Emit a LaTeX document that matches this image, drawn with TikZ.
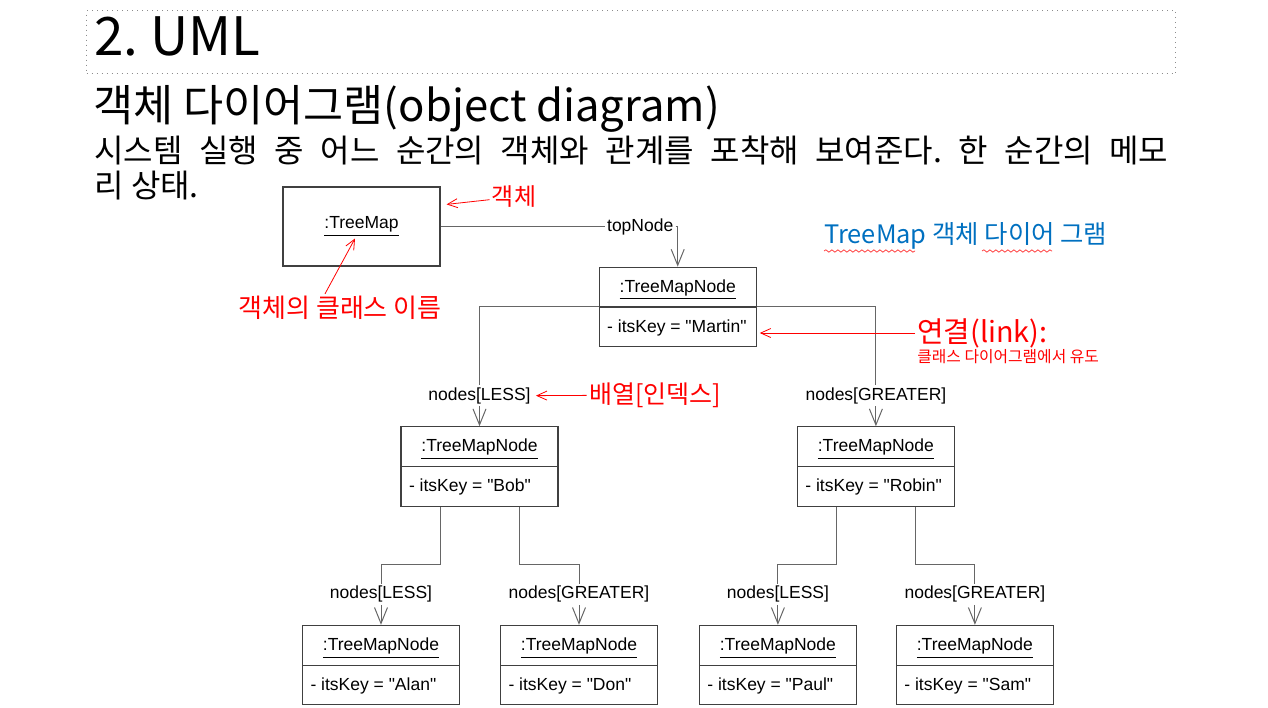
\documentclass[tikz,border=0pt]{standalone}
\usepackage{fontspec}
\setmainfont{Liberation Sans}[Ligatures=TeXOff]
\newfontfamily\kr{Noto Sans CJK KR}
\usetikzlibrary{positioning}
\usetikzlibrary{arrows.meta}
\usetikzlibrary{shapes.multipart}
\usetikzlibrary{decorations.pathmorphing}
\definecolor{notered}{RGB}{255,0,0}
\definecolor{noteblue}{RGB}{0,112,192}
\tikzstyle{single}=[draw=black!75, line width=0.6pt, minimum width=78.5pt, minimum height=39.5pt, font=\fontsize{8.75}{10}\selectfont]
\tikzstyle{object}=[rectangle split, rectangle split parts=2, rectangle split part align={center,left}, draw=black!75, line width=0.6pt, minimum width=78.5pt, inner xsep=4pt, inner ysep=0pt, font=\fontsize{8.75}{10}\selectfont]
\tikzstyle{role}=[inner sep=1pt, font=\fontsize{8.75}{10}\selectfont]
\tikzstyle{link}=[draw=black!60, line width=0.5pt, >={Straight Barb[length=8pt,width=6.5pt]}]
\tikzstyle{remark}=[->, draw=notered, line width=0.4pt, >={Straight Barb[length=5pt,width=4.5pt]}]
\tikzstyle{note}=[inner sep=1pt, text=notered, font=\kr\fontsize{12.5}{14}\selectfont]
\tikzstyle{squiggle}=[draw=red!80, line width=0.35pt, decorate, decoration={snake, amplitude=0.6pt, segment length=3pt}]
\newcommand{\cell}{\rule[-7pt]{0pt}{19.25pt}}

\begin{document}
\frenchspacing
\begin{tikzpicture}[x=0.5pt, y=-0.5pt]
    \useasboundingbox (0,0) rectangle (1268,707);

    % slide heading
    \node[draw=black!45, dotted, line width=0.5pt, minimum width=544.5pt, minimum height=31.5pt, anchor=north west, inner sep=0pt] (titlebox) at (86,10) {};
    \node[anchor=base west, inner sep=0pt, font=\kr\fontsize{26.5}{28}\selectfont] (heading) at (94,55) {2. UML};
    \node[anchor=base west, inner sep=0pt, font=\kr\fontsize{21.8}{26}\selectfont] (subtitle) at (93,121) {객체 다이어그램(object diagram)};
    \node[anchor=base west, inner sep=0pt, align=left, font=\kr\fontsize{16}{17.5}\selectfont] (body) at (94,197)
        {\makebox[537pt][s]{시스템 실행 중 어느 순간의 객체와 관계를 포착해 보여준다. 한 순간의 메모}\\리 상태.};

    % objects
    \node[single] (treemap) at (361.5,226.5) {\underline{:TreeMap}};
    \node[object] (martin) [below right=0pt and 79pt of treemap] {\cell\underline{:TreeMapNode}\nodepart{two}\cell- itsKey = "Martin"};
    \node[object] (bob)    [below left=39.5pt and 20pt of martin]  {\cell\underline{:TreeMapNode}\nodepart{two}\cell- itsKey = "Bob"};
    \node[object] (robin)  [below right=39.5pt and 20pt of martin] {\cell\underline{:TreeMapNode}\nodepart{two}\cell- itsKey = "Robin"};
    \node[object] (alan)   [below=59pt of bob, xshift=-49.25pt]    {\cell\underline{:TreeMapNode}\nodepart{two}\cell- itsKey = "Alan"};
    \node[object] (don)    [below=59pt of bob, xshift=49.75pt]     {\cell\underline{:TreeMapNode}\nodepart{two}\cell- itsKey = "Don"};
    \node[object] (paul)   [below=59pt of robin, xshift=-49pt]     {\cell\underline{:TreeMapNode}\nodepart{two}\cell- itsKey = "Paul"};
    \node[object] (sam)    [below=59pt of robin, xshift=49.5pt]    {\cell\underline{:TreeMapNode}\nodepart{two}\cell- itsKey = "Sam"};

    % link roles
    \node[role, anchor=east, xshift=-1pt] (ltop) at (treemap.east -| martin.north) {topNode};
    \node[role] (lbob)   [above=10pt of bob]   {nodes[LESS]};
    \node[role] (lrobin) [above=10pt of robin] {nodes[GREATER]};
    \node[role] (lalan)  [above=10pt of alan]  {nodes[LESS]};
    \node[role] (ldon)   [above=10pt of don]   {nodes[GREATER]};
    \node[role] (lpaul)  [above=10pt of paul]  {nodes[LESS]};
    \node[role] (lsam)   [above=10pt of sam]   {nodes[GREATER]};

    % links
    \draw[link] (treemap) -- (ltop);
    \draw[link, ->] (ltop) -| (martin);
    \draw[link] (martin.text split west) -| (lbob);
    \draw[link] (martin.text split east) -| (lrobin);
    \draw[link, ->] (lbob) -- (bob);
    \draw[link, ->] (lrobin) -- (robin);
    \draw[link] ([xshift=-19.75pt]bob.south) -- ++(0,58) -| (lalan);
    \draw[link] ([xshift=19.75pt]bob.south) -- ++(0,58) -| (ldon);
    \draw[link] ([xshift=-19.75pt]robin.south) -- ++(0,58) -| (lpaul);
    \draw[link] ([xshift=19.75pt]robin.south) -- ++(0,58) -| (lsam);
    \draw[link, ->] (lalan) -- (alan);
    \draw[link, ->] (ldon) -- (don);
    \draw[link, ->] (lpaul) -- (paul);
    \draw[link, ->] (lsam) -- (sam);

    % notes
    \node[note, font=\kr\fontsize{12}{14}\selectfont] (objnote) at (514,197) {객체};
    \node[note, font=\kr\fontsize{13}{15}\selectfont] (clsnote) at (340,308) {객체의 클래스 이름};
    \node[note] (arrnote) at (655,395) {배열[인덱스]};
    \node[note, anchor=west, font=\kr\fontsize{14.4}{16}\selectfont] (linknote) at (915,333) {연결(link):};
    \node[note, anchor=north west, font=\kr\fontsize{7.9}{9}\selectfont] (linksub) at (915,347) {클래스 다이어그램에서 유도};
    \node[inner sep=1pt, anchor=west, text=noteblue, font=\kr\fontsize{12.7}{15}\selectfont] (diagname) at (822,236) {TreeMap 객체 다이어 그램};
    \draw[squiggle] (824,251) -- (915,251);
    \draw[squiggle] (982,251) -- (1052,251);

    \draw[remark] (objnote) -- ([xshift=3pt,yshift=-9pt]treemap.north east);
    \draw[remark] ([xshift=-7.5pt]clsnote.north) -- ([xshift=-3.25pt,yshift=-6pt]treemap.center);
    \draw[remark] (arrnote) -- ([xshift=1.5pt]lbob.east);
    \draw[remark, shorten >=1.5pt] (linknote.west) -- (linknote.west -| martin.text split east);
\end{tikzpicture}
\end{document}
